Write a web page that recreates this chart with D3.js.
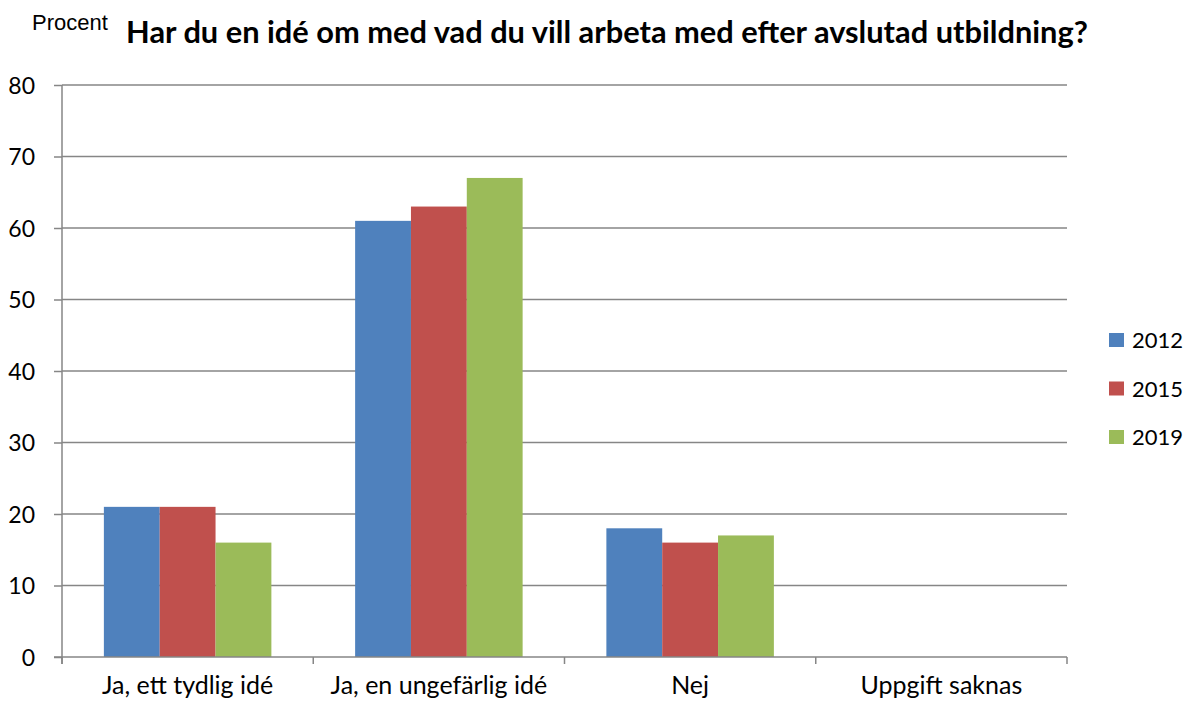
<!DOCTYPE html>
<html>
<head>
<meta charset="utf-8">
<script src="https://cdn.jsdelivr.net/npm/d3@7"></script>
<style>
  body { margin: 0; background: #fff; }
  svg text { font-family: Lato, "Open Sans", sans-serif; fill: #000; }
</style>
</head>
<body>
<svg id="chart"></svg>
<script>
const categories = ['Ja, ett tydlig idé', 'Ja, en ungefärlig idé', 'Nej', 'Uppgift saknas'];
const years = ['2012', '2015', '2019'];
const values2012 = [21, 61, 18, 0];
const values2015 = [21, 63, 16, 0];
const values2019 = [16, 67, 17, 0];
const yTicks = [0, 10, 20, 30, 40, 50, 60, 70, 80];
const colors = ['#4F81BD', '#C0504D', '#9BBB59'];

const width = 1186, height = 702;
const margin = { top: 85, right: 119, bottom: 45, left: 62 };
const innerW = width - margin.left - margin.right;
const innerH = height - margin.top - margin.bottom;

const series = [values2012, values2015, values2019];
const data = categories.map((c, i) => ({
  key: c,
  vals: years.map((y, j) => ({ year: y, value: series[j][i], idx: j }))
}));

const svg = d3.select('#chart')
  .attr('width', width)
  .attr('height', height);

const x = d3.scaleBand()
  .domain(categories)
  .range([0, innerW])
  .paddingInner(0)
  .paddingOuter(0);

// Excel gap width 150% -> bars fill 2/3 of band
const groupW = x.bandwidth() * 2 / 3;
const xInner = d3.scaleBand()
  .domain(years)
  .range([0, groupW]);

const y = d3.scaleLinear()
  .domain([0, 80])
  .range([innerH, 0]);

const g = svg.append('g')
  .attr('transform', `translate(${margin.left},${margin.top})`);

// gridlines
g.append('g')
  .selectAll('line')
  .data(yTicks.filter(t => t > 0))
  .enter()
  .append('line')
    .attr('x1', 0)
    .attr('x2', innerW)
    .attr('y1', d => y(d))
    .attr('y2', d => y(d))
    .attr('stroke', '#868686')
    .attr('stroke-width', 1.5);

// bars
const groups = g.append('g')
  .selectAll('g')
  .data(data)
  .enter()
  .append('g')
    .attr('transform', d => `translate(${x(d.key) + (x.bandwidth() - groupW) / 2},0)`);

groups.selectAll('rect')
  .data(d => d.vals)
  .enter()
  .append('rect')
    .attr('x', d => xInner(d.year))
    .attr('y', d => y(d.value))
    .attr('width', xInner.bandwidth())
    .attr('height', d => y(0) - y(d.value))
    .style('fill', d => colors[d.idx]);

// y axis
const yAxis = g.append('g')
  .call(d3.axisLeft(y).tickValues(yTicks).tickSize(8).tickPadding(19));
yAxis.select('.domain').remove();
yAxis.append('line')
  .attr('x1', 0).attr('x2', 0)
  .attr('y1', 0).attr('y2', innerH + 7)
  .attr('stroke', '#868686').attr('stroke-width', 1.5);
yAxis.selectAll('.tick line').attr('stroke', '#868686').attr('stroke-width', 1.5);
yAxis.selectAll('.tick text')
  .attr('dy', '0.36em')
  .style('font-size', '23px')
  .style('font-family', 'Lato, sans-serif');

// x axis
const xAxisG = g.append('g')
  .attr('transform', `translate(0,${innerH})`);
xAxisG.append('line')
  .attr('x1', -8).attr('x2', innerW)
  .attr('stroke', '#868686').attr('stroke-width', 1.5);
const bounds = categories.map(c => x(c)).concat([innerW]);
xAxisG.selectAll('.xtick')
  .data(bounds)
  .enter()
  .append('line')
    .attr('x1', d => d).attr('x2', d => d)
    .attr('y1', 0).attr('y2', 7)
    .attr('stroke', '#868686').attr('stroke-width', 1.5);
xAxisG.selectAll('.xlabel')
  .data(categories)
  .enter()
  .append('text')
    .attr('x', d => x(d) + x.bandwidth() / 2)
    .attr('y', 37)
    .attr('text-anchor', 'middle')
    .style('font-size', '25px')
    .text(d => d);

// title
svg.append('text')
  .attr('x', 607)
  .attr('y', 43)
  .attr('text-anchor', 'middle')
  .style('font-size', '30.8px')
  .style('font-weight', 'bold')
  .text('Har du en idé om med vad du vill arbeta med efter avslutad utbildning?');

svg.append('text')
  .attr('x', 32)
  .attr('y', 30)
  .style('font-family', '"Liberation Sans", Arial, sans-serif')
  .style('font-size', '22px')
  .text('Procent');

// legend
const legend = svg.append('g')
  .selectAll('g')
  .data(years)
  .enter()
  .append('g')
    .attr('transform', (d, i) => `translate(1109,${340 + i * 48.5})`);
legend.append('rect')
  .attr('x', 0).attr('y', -7)
  .attr('width', 15).attr('height', 14)
  .style('fill', (d, i) => colors[i]);
legend.append('text')
  .attr('x', 23)
  .attr('y', 8)
  .style('font-size', '22px')
  .text(d => d);
</script>
</body>
</html>
